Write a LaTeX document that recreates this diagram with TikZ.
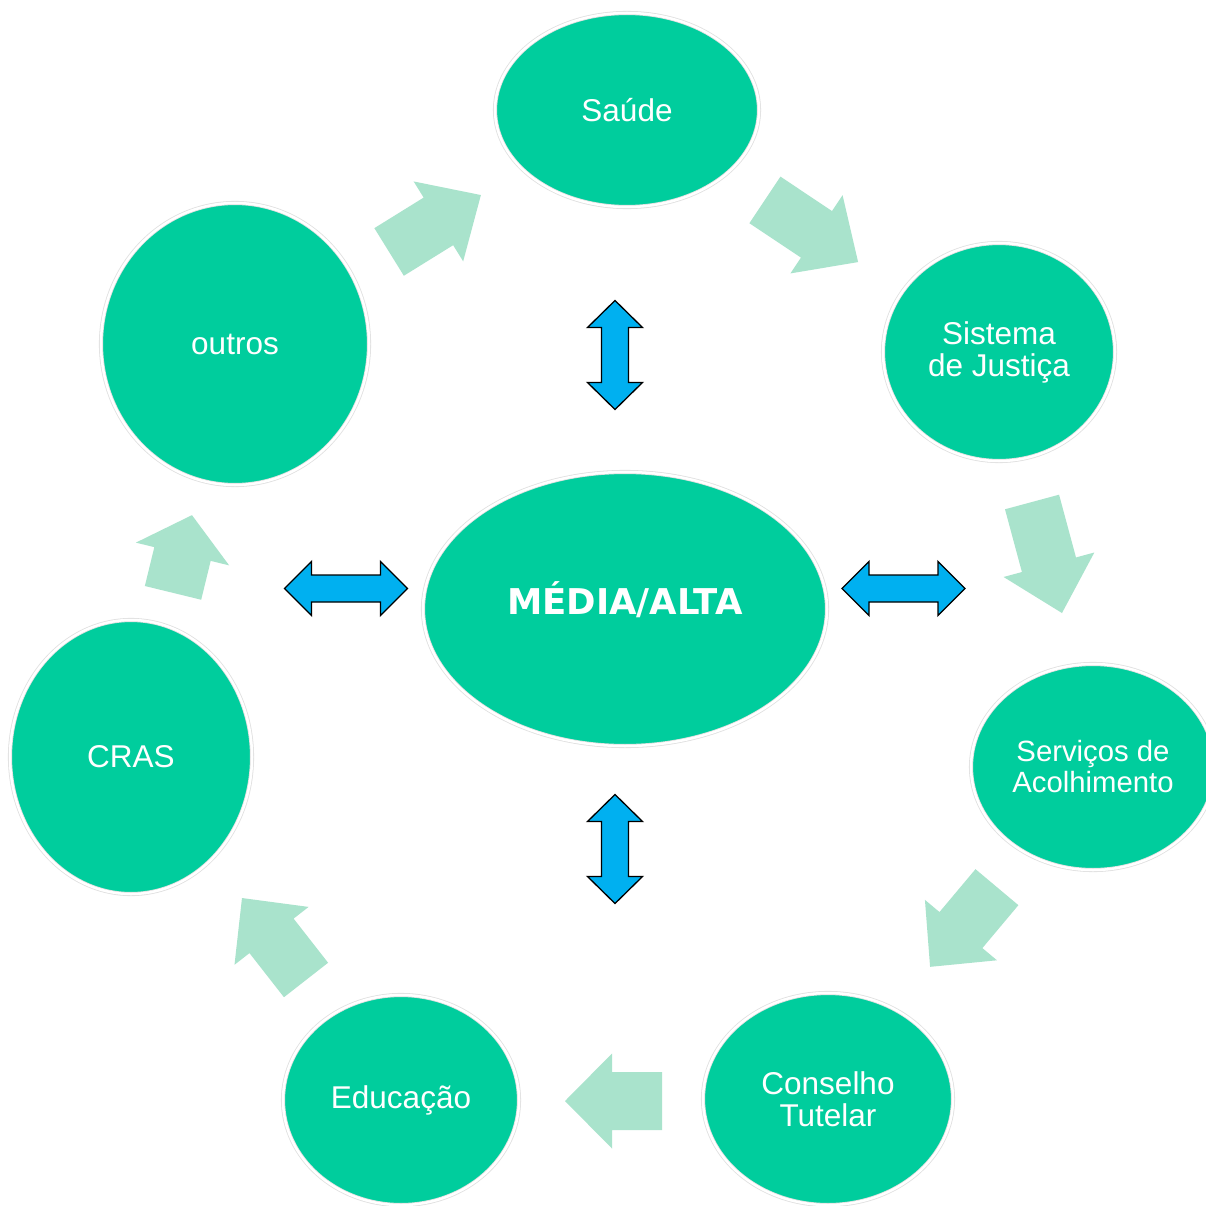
\documentclass[tikz,border=0pt]{standalone}
\usepackage{fontspec}
\setmainfont{Liberation Sans}
\newfontfamily\boldfam{DejaVu Sans}
\usetikzlibrary{shapes.geometric}
\definecolor{nodegreen}{RGB}{0,205,157}
\definecolor{arrowgreen}{RGB}{169,227,204}
\definecolor{arrowblue}{RGB}{0,176,240}
\tikzset{
  bubble/.style={ellipse, inner sep=0pt, fill=nodegreen, draw=black!12, double=white,
    double distance=2.5pt, line width=0.8pt, text=white, align=center,
    font=\fontsize{31.5}{32}\selectfont},
  flowarrow/.style={fill=arrowgreen, draw=none},
  linkarrow/.style={fill=arrowblue, draw=black, line width=1.3pt, line join=miter},
}
% block arrow: cx, cy, angle, length, head length, head half width, shaft half width
\newcommand\blockarrowx[7]{%
  \begin{scope}[shift={(#1,#2)}, rotate=#3]
    \fill[flowarrow] (-#4/2,-#7) -- ({#4/2-#5},-#7) -- ({#4/2-#5},-#6) -- (#4/2,0)
      -- ({#4/2-#5},#6) -- ({#4/2-#5},#7) -- (-#4/2,#7) -- cycle;
  \end{scope}}
% double arrow: cx, cy, angle, half length, head length, head half width, shaft half width
\newcommand\dblarrowx[7]{%
  \begin{scope}[shift={(#1,#2)}, rotate=#3]
    \draw[linkarrow] (-#4,0) -- ({-#4+#5},#6) -- ({-#4+#5},#7) -- ({#4-#5},#7) -- ({#4-#5},#6)
      -- (#4,0) -- ({#4-#5},-#6) -- ({#4-#5},-#7) -- ({-#4+#5},-#7) -- ({-#4+#5},-#6) -- cycle;
  \end{scope}}
\begin{document}
\begin{tikzpicture}[x=1pt, y=-1pt]
\useasboundingbox (0,0) rectangle (1205,1206);
\fill[white] (0,0) rectangle (1205,1206);

% nodes
\node[bubble, minimum width=264pt, minimum height=194pt] (saude) at (627,110) {Saúde};
\node[bubble, minimum width=232pt, minimum height=218pt] (justica) at (999,352) {Sistema\\de Justiça};
\node[bubble, minimum width=244pt, minimum height=206pt, font=\fontsize{29.3}{31}\selectfont] (acolh) at (1093,767) {Serviços de\\Acolhimento};
\node[bubble, minimum width=250pt, minimum height=212pt] (conselho) at (828,1099) {Conselho\\Tutelar};
\node[bubble, minimum width=236pt, minimum height=210pt] (educ) at (401,1100) {\raisebox{-2pt}{Educação}};
\node[bubble, minimum width=242pt, minimum height=274pt] (cras) at (131,757) {CRAS};
\node[bubble, minimum width=268pt, minimum height=282pt] (outros) at (235,344) {outros};
\node[bubble, minimum width=404pt, minimum height=274pt] (media) at (625,609) {};
\node[text=white, font=\boldfam\bfseries\fontsize{35.5}{38}\selectfont] (medialbl) at (625,600) {MÉDIA/ALTA};

% flow arrows around the cycle
\blockarrowx{435}{223.5}{31.8}{108}{50}{47}{28}
\blockarrowx{811.5}{231}{-33.7}{112}{50}{47}{28}
\blockarrowx{1047}{557.5}{-74.9}{115}{50}{47}{28}
\blockarrowx{963.5}{927}{-130}{104}{48}{47}{28}
\blockarrowx{613.5}{1101}{180}{97}{47}{47.5}{29}
\blockarrowx{274}{939}{128}{104}{48}{47}{28}
\blockarrowx{182.5}{554}{76.3}{80}{40}{48}{29}

% link arrows to the centre
\dblarrowx{615}{355}{90}{54.5}{27}{27.5}{13.5}
\dblarrowx{615}{849}{90}{54.5}{27}{27.5}{13.5}
\dblarrowx{346}{588.5}{0}{61.5}{27}{27}{13.5}
\dblarrowx{903.5}{588.5}{0}{61.5}{27}{27}{13.5}
\end{tikzpicture}
\end{document}
